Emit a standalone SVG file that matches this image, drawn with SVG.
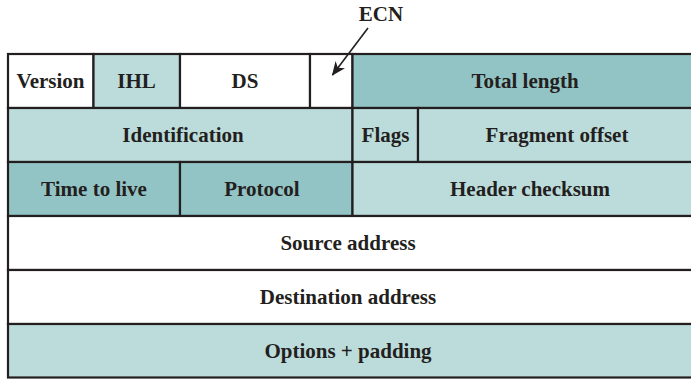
<svg xmlns="http://www.w3.org/2000/svg" width="691" height="379" viewBox="0 0 691 379">
<defs>
<style>
.w{fill:#ffffff}
.l{fill:#bcdcdb}
.d{fill:#93c4c5}
.c{stroke:#231f20;stroke-width:2.2}
text{font-family:'Liberation Serif','DejaVu Serif',serif;font-weight:700;font-size:21px;fill:#231f20;text-anchor:middle}
</style>
<marker id="ah" viewBox="0 0 14 12" refX="13" refY="6" markerWidth="14" markerHeight="12" markerUnits="userSpaceOnUse" orient="auto">
<path d="M0,0 L14,6 L0,12 L4,6 Z" fill="#231f20"/>
</marker>
</defs>
<rect width="691" height="379" fill="#ffffff"/>
<g id="version"><rect class="w c" x="8" y="54" width="85.5" height="54"/><text x="50.5" y="88">Version</text></g>
<g id="ihl"><rect class="l c" x="93.5" y="54" width="86.5" height="54"/><text x="136.5" y="88">IHL</text></g>
<g id="ds"><rect class="w c" x="180" y="54" width="130" height="54"/><text x="245" y="88">DS</text></g>
<g id="ecnbox"><rect class="w c" x="310" y="54" width="42.5" height="54"/></g>
<g id="totallength"><rect class="d c" x="352.5" y="54" width="340" height="54"/><text x="525" y="88">Total length</text></g>
<g id="identification"><rect class="l c" x="8" y="108" width="344.5" height="54"/><text x="183" y="142">Identification</text></g>
<g id="flags"><rect class="l c" x="352.5" y="108" width="65.5" height="54"/><text x="385.5" y="142">Flags</text></g>
<g id="fragment"><rect class="l c" x="418" y="108" width="274.5" height="54"/><text x="557" y="142">Fragment offset</text></g>
<g id="ttl"><rect class="d c" x="8" y="162" width="172" height="54"/><text x="94" y="196">Time to live</text></g>
<g id="protocol"><rect class="d c" x="180" y="162" width="172.5" height="54"/><text x="262" y="196">Protocol</text></g>
<g id="checksum"><rect class="l c" x="352.5" y="162" width="340" height="54"/><text x="530" y="196">Header checksum</text></g>
<g id="source"><rect class="w c" x="8" y="216" width="684.5" height="54"/><text x="348" y="250">Source address</text></g>
<g id="destination"><rect class="w c" x="8" y="270" width="684.5" height="54"/><text x="348" y="304">Destination address</text></g>
<g id="options"><rect class="l c" x="8" y="324" width="684.5" height="53.5"/><text x="348" y="358">Options + padding</text></g>
<g id="ecn"><text x="381" y="21">ECN</text></g>
<g id="connectors"><line x1="368" y1="28" x2="332.5" y2="75" stroke="#231f20" stroke-width="1.6" marker-end="url(#ah)"/></g>
</svg>
